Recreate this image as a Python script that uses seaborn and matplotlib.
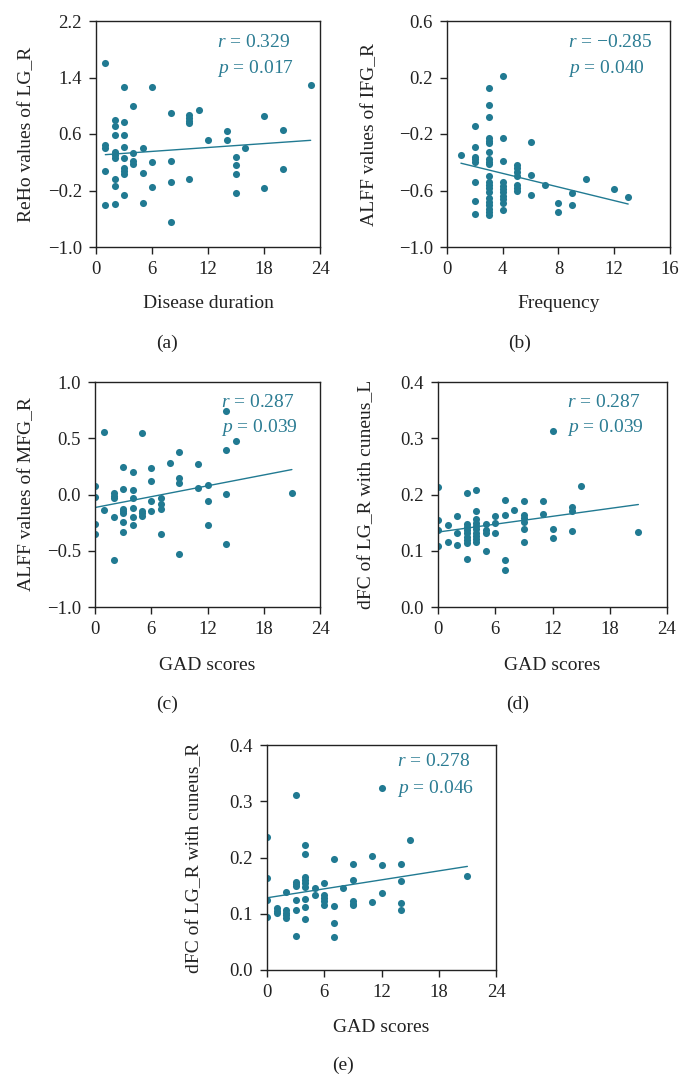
import numpy as np
import pandas as pd
import matplotlib
matplotlib.use("Agg")
import matplotlib.pyplot as plt
import seaborn as sns

# ---------------- data ----------------
a_x = [1, 3, 6, 4, 8, 10, 10, 10, 10, 11, 23, 18, 20, 14, 14, 12, 2, 2, 2, 3, 3, 1, 1, 3, 5,
       2, 2, 2, 3, 4, 4, 4, 6, 8, 16, 15, 15, 15, 15, 20, 1, 3, 3, 3, 5, 2, 2, 8, 10, 6, 18,
       3, 1, 2, 5, 8]
a_y = [1.60, 1.26, 1.27, 1.00, 0.90, 0.87, 0.82, 0.78, 0.75, 0.94, 1.30, 0.85, 0.65, 0.64,
       0.52, 0.51, 0.80, 0.71, 0.59, 0.77, 0.59, 0.445, 0.40, 0.41, 0.40, 0.34, 0.30, 0.26,
       0.26, 0.33, 0.22, 0.17, 0.20, 0.22, 0.40, 0.275, 0.16, 0.03, -0.23, 0.10, 0.07, 0.115,
       0.08, 0.03, 0.05, -0.04, -0.13, -0.08, -0.04, -0.15, -0.16, -0.27, -0.41, -0.39,
       -0.38, -0.65]

b_x = [1, 2, 2, 2, 2, 2, 2, 2, 2,
       3, 3, 3, 3, 3, 3, 3, 3, 3, 3, 3, 3, 3, 3, 3, 3, 3, 3, 3, 3, 3,
       4, 4, 4, 4, 4, 4, 4, 4, 4, 4, 4,
       5, 5, 5, 5, 5, 5, 5, 6, 6, 6, 7, 8, 8, 9, 9, 10, 12, 13]
b_y = [-0.352, -0.145, -0.293, -0.36, -0.378, -0.395, -0.542, -0.673, -0.768,
       0.123, 0.004, -0.079, -0.228, -0.248, -0.264, -0.324, -0.376, -0.395, -0.414, -0.497,
       -0.537, -0.561, -0.585, -0.609, -0.656, -0.68, -0.704, -0.728, -0.751, -0.770,
       0.211, -0.228, -0.39, -0.542, -0.566, -0.59, -0.613, -0.637, -0.661, -0.692, -0.739,
       -0.419, -0.442, -0.466, -0.495, -0.561, -0.585, -0.602, -0.259, -0.49, -0.635,
       -0.561, -0.692, -0.751, -0.616, -0.706, -0.521, -0.59, -0.649]

c_x = [1, 5, 14, 15, 14, 9, 8, 11, 3, 4, 6, 6, 9, 9, 0, 0, 3, 4, 2, 2, 2, 4, 11, 12, 12, 14,
       21, 6, 7, 7, 7, 1, 3, 3, 3, 4, 4, 5, 5, 5, 6, 2, 3, 4, 0, 0, 3, 7, 12, 14, 9, 2]
c_y = [0.558, 0.543, 0.74, 0.475, 0.395, 0.374, 0.279, 0.27, 0.244, 0.202, 0.232, 0.122,
       0.149, 0.098, 0.077, -0.021, 0.048, 0.036, 0.009, -0.015, -0.03, -0.033, 0.059, 0.083,
       -0.056, 0.006, 0.012, -0.056, -0.033, -0.08, -0.125, -0.14, -0.131, -0.149, -0.166,
       -0.119, -0.199, -0.143, -0.163, -0.187, -0.151, -0.202, -0.244, -0.273, -0.261,
       -0.353, -0.336, -0.347, -0.273, -0.443, -0.526, -0.582]

d_x = [0, 0, 0, 0, 1, 1, 2, 2, 2, 3, 3, 3, 3, 3, 3, 3, 3, 3,
       4, 4, 4, 4, 4, 4, 4, 4, 4, 4, 5, 5, 5, 5, 6, 6, 6, 7, 7, 7, 7, 8,
       9, 9, 9, 9, 9, 9, 11, 11, 12, 12, 12, 14, 14, 14, 15, 21]
d_y = [0.214, 0.155, 0.137, 0.108, 0.145, 0.116, 0.161, 0.131, 0.110,
       0.202, 0.148, 0.143, 0.137, 0.131, 0.125, 0.119, 0.114, 0.085,
       0.208, 0.170, 0.156, 0.150, 0.144, 0.138, 0.132, 0.126, 0.121, 0.115,
       0.148, 0.137, 0.132, 0.099, 0.162, 0.150, 0.131, 0.191, 0.163, 0.084, 0.065, 0.172,
       0.188, 0.164, 0.158, 0.152, 0.139, 0.115, 0.189, 0.165, 0.313, 0.139, 0.122,
       0.178, 0.170, 0.135, 0.215, 0.134]

e_x = [0, 0, 0, 0, 1, 1, 1, 2, 2, 2, 2, 2, 3, 3, 3, 3, 3, 3, 3,
       4, 4, 4, 4, 4, 4, 4, 4, 4, 5, 5, 6, 6, 6, 6, 6, 7, 7, 7, 7, 8,
       9, 9, 9, 9, 9, 11, 11, 12, 12, 12, 14, 14, 14, 14, 15, 21]
e_y = [0.237, 0.164, 0.125, 0.094, 0.110, 0.105, 0.101, 0.138, 0.106, 0.102, 0.097, 0.092,
       0.311, 0.157, 0.153, 0.149, 0.125, 0.107, 0.061,
       0.223, 0.206, 0.166, 0.160, 0.154, 0.148, 0.127, 0.112, 0.090, 0.145, 0.134,
       0.154, 0.134, 0.128, 0.122, 0.116, 0.198, 0.113, 0.083, 0.058, 0.145,
       0.188, 0.160, 0.123, 0.118, 0.115, 0.202, 0.121, 0.323, 0.186, 0.137,
       0.188, 0.158, 0.119, 0.107, 0.231, 0.168]

panel_letters = ["(a)", "(b)", "(c)", "(d)", "(e)"]
x_labels = ["Disease duration", "Frequency", "GAD scores", "GAD scores", "GAD scores"]
y_labels = ["ReHo values of LG_R", "ALFF values of IFG_R", "ALFF values of MFG_R",
            "dFC of LG_R with cuneus_L", "dFC of LG_R with cuneus_R"]
r_texts = ["0.329", "\u22120.285", "0.287", "0.287", "0.278"]
p_texts = ["0.017", "0.040", "0.039", "0.039", "0.046"]

x_ticks_gad = [0, 6, 12, 18, 24]
x_ticks_freq = [0, 4, 8, 12, 16]
y_ticks_a = [-1.0, -0.2, 0.6, 1.4, 2.2]
y_ticks_b = [-1.0, -0.6, -0.2, 0.2, 0.6]
y_ticks_c = [-1.0, -0.5, 0.0, 0.5, 1.0]
y_ticks_de = [0.0, 0.1, 0.2, 0.3, 0.4]

# ---------------- style ----------------
sns.set_theme(style="ticks")
plt.rcParams["font.family"] = ["Liberation Serif", "DejaVu Serif"]
plt.rcParams["mathtext.fontset"] = "custom"
plt.rcParams["mathtext.it"] = "Liberation Serif:italic"
plt.rcParams["mathtext.rm"] = "Liberation Serif"
plt.rcParams["axes.unicode_minus"] = True

PT = "#217a92"
TXT = "#2b7c93"
FS_TICK = 13.5
FS_LAB = 14
FS_ANN = 14

W, H = 685, 1079
fig = plt.figure(figsize=(W / 100, H / 100), dpi=100)


def make_ax(l, r, t, b):
    return fig.add_axes([l / W, 1 - b / H, (r - l) / W, (b - t) / H])


boxes = [(96, 320, 21, 247), (447, 670, 21, 247),
         (95, 320, 382, 607), (438, 667, 382, 607),
         (267, 496, 745, 970)]
datasets = [(a_x, a_y), (b_x, b_y), (c_x, c_y), (d_x, d_y), (e_x, e_y)]
xt = [x_ticks_gad, x_ticks_freq, x_ticks_gad, x_ticks_gad, x_ticks_gad]
yt = [y_ticks_a, y_ticks_b, y_ticks_c, y_ticks_de, y_ticks_de]
ylab_x = [27, 370, 27, 367, 195]
xlab_y = [304, 304, 665, 665, 1027]
letter_pos = [(167, 343), (520, 343), (167, 704), (518, 704), (343, 1065)]
txt_y = [(0.885, 0.771), (0.885, 0.771), (0.89, 0.778), (0.89, 0.778), (0.905, 0.787)]
txt_x = [0.54, 0.543, 0.56, 0.562, 0.566]


def fmt(v):
    s = f"{v:.1f}"
    return s.replace("-", "\u2212")


for i, (box, (xs, ys)) in enumerate(zip(boxes, datasets)):
    ax = make_ax(*box)
    df = pd.DataFrame({"x": xs, "y": ys})
    sns.regplot(data=df, x="x", y="y", ax=ax, ci=None, truncate=True,
                scatter_kws=dict(s=26, color=PT, linewidths=0, alpha=1),
                line_kws=dict(color=PT, lw=1.0))
    ax.set_xlim(xt[i][0], xt[i][-1])
    ax.set_ylim(yt[i][0], yt[i][-1])
    ax.set_xticks(xt[i])
    ax.set_xticklabels([str(v) for v in xt[i]])
    ax.set_yticks(yt[i])
    ax.set_yticklabels([fmt(v) for v in yt[i]])
    ax.tick_params(direction="out", length=5, width=1.0, color="#222222",
                   labelsize=FS_TICK, pad=5, labelcolor="#222222")
    for sp in ax.spines.values():
        sp.set_linewidth(1.0)
        sp.set_color("#222222")
    l, r, t, b = box
    ax.set_xlabel(x_labels[i], fontsize=FS_LAB, color="#222222")
    ax.xaxis.set_label_coords(0.5, (b - xlab_y[i]) / (b - t))
    ax.xaxis.label.set_va("center")
    ax.set_ylabel(y_labels[i], fontsize=FS_LAB, color="#222222")
    ax.yaxis.set_label_coords((ylab_x[i] - l) / (r - l), 0.5)
    ax.yaxis.label.set_va("center")
    ax.text(txt_x[i], txt_y[i][0], r"$r$ = " + r_texts[i], transform=ax.transAxes,
            fontsize=FS_ANN, color=TXT, ha="left", va="baseline")
    ax.text(txt_x[i], txt_y[i][1], r"$p$ = " + p_texts[i], transform=ax.transAxes,
            fontsize=FS_ANN, color=TXT, ha="left", va="baseline")
    lx, ly = letter_pos[i]
    fig.text(lx / W, 1 - ly / H, panel_letters[i], fontsize=FS_LAB, color="#222222",
             ha="center", va="center")

fig.savefig("out.png", dpi=100, facecolor="white")
